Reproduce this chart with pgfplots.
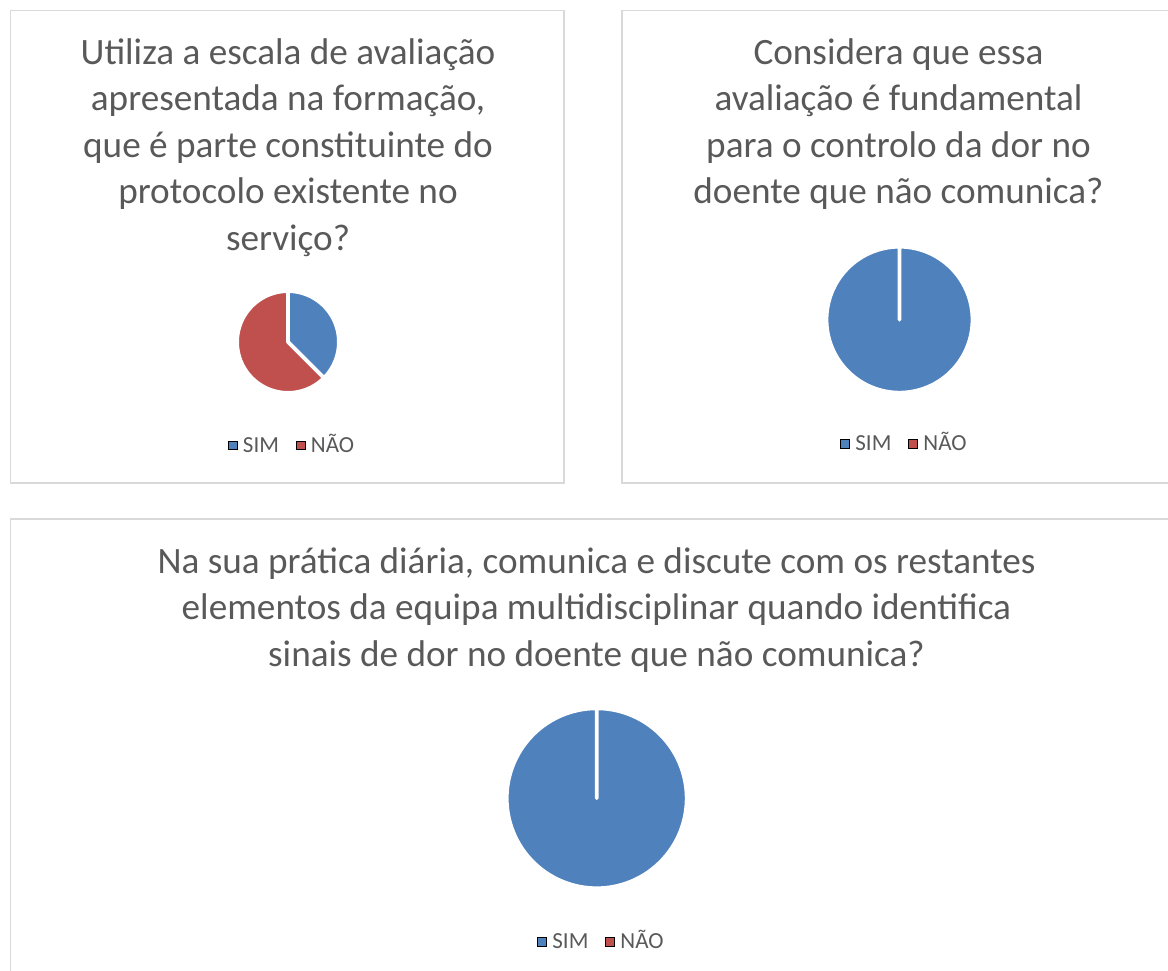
\documentclass[border=0pt]{standalone}
\usepackage{pgfplots}
\pgfplotsset{compat=1.18}
\usepackage{fontspec}
\setmainfont{Carlito}
\definecolor{nblue}{HTML}{4F81BD}
\definecolor{nred}{HTML}{C0504D}
\definecolor{txt}{HTML}{595959}
\definecolor{frm}{HTML}{D9D9D9}
% percentages (SIM)
\def\pA{37.5} % chart 1 SIM
\def\pB{100}  % chart 2 SIM
\def\pC{100}  % chart 3 SIM
\pgfplotsset{
  pie/.style={hide axis, clip=false, anchor=center,
    xmin=-1,xmax=1,ymin=-1,ymax=1,
    legend columns=2,
    legend image code/.code={\fill[##1] (0pt,-4.3pt) rectangle (8.6pt,4.3pt);},
    legend style={draw=none, fill=none, anchor=center, font=\fontsize{23}{27}\selectfont\color{txt},
      nodes={inner xsep=3pt, inner ysep=1pt, text height=15pt, text depth=1pt},
      /tikz/every odd column/.append style={column sep=3pt},
      /tikz/every even column/.append style={column sep=14pt}},
  },
  slice/.style={fill=#1, draw=white, line width=3.8pt, line join=round, samples=120, forget plot},
}
\begin{document}
\begin{tikzpicture}[x=1pt,y=1pt]
\path[use as bounding box] (0,0) rectangle (1168,971);
% frames
\draw[frm, line width=1.5pt] (10.5,960.5) rectangle (564,488);
\draw[frm, line width=1.5pt] (622,960.5) rectangle (1185,488);
\draw[frm, line width=1.5pt] (10.5,452) rectangle (1190,-10);
% titles
\node[align=center, text=txt, font=\fontsize{37.2}{46.6}\selectfont] at (288,823.4)
 {Utiliza a escala de avaliação\\apresentada na formação,\\que é parte constituinte do\\protocolo existente no\\serviço?};
\node[align=center, text=txt, font=\fontsize{37.2}{46.6}\selectfont] at (898.5,847)
 {Considera que essa\\avaliação é fundamental\\para o controlo da dor no\\doente que não comunica?};
\node[align=center, text=txt, font=\fontsize{37.2}{46.6}\selectfont] at (596.5,361.3)
 {Na sua prática diária, comunica e discute com os restantes\\elementos da equipa multidisciplinar quando identifica\\sinais de dor no doente que não comunica?};
% chart 1
\begin{axis}[pie, at={(288pt,629pt)}, x=50.9pt, y=50.9pt,
  legend style={at={(axis cs:0.089,-2.03)}}]
\addplot[slice=nblue, domain=90:90-3.6*\pA] ({cos(x)},{sin(x)}) -- (axis cs:0,0) -- cycle;
\addplot[slice=nred, domain=90-3.6*\pA:-270] ({cos(x)},{sin(x)}) -- (axis cs:0,0) -- cycle;
\addlegendimage{fill=nblue}\addlegendentry{SIM}
\addlegendimage{fill=nred}\addlegendentry{NÃO}
\end{axis}
% chart 2
\begin{axis}[pie, at={(899.5pt,651.3pt)}, x=73pt, y=73pt,
  legend style={at={(axis cs:0.075,-1.70)}}]
\addplot[slice=nblue, domain=90:90-3.6*\pB] ({cos(x)},{sin(x)}) -- (axis cs:0,0) -- cycle;
\addlegendimage{fill=nblue}\addlegendentry{SIM}
\addlegendimage{fill=nred}\addlegendentry{NÃO}
\end{axis}
% chart 3
\begin{axis}[pie, at={(596.7pt,172.7pt)}, x=90pt, y=90pt,
  legend style={at={(axis cs:0.059,-1.596)}}]
\addplot[slice=nblue, domain=90:90-3.6*\pC] ({cos(x)},{sin(x)}) -- (axis cs:0,0) -- cycle;
\addlegendimage{fill=nblue}\addlegendentry{SIM}
\addlegendimage{fill=nred}\addlegendentry{NÃO}
\end{axis}
\end{tikzpicture}
\end{document}
